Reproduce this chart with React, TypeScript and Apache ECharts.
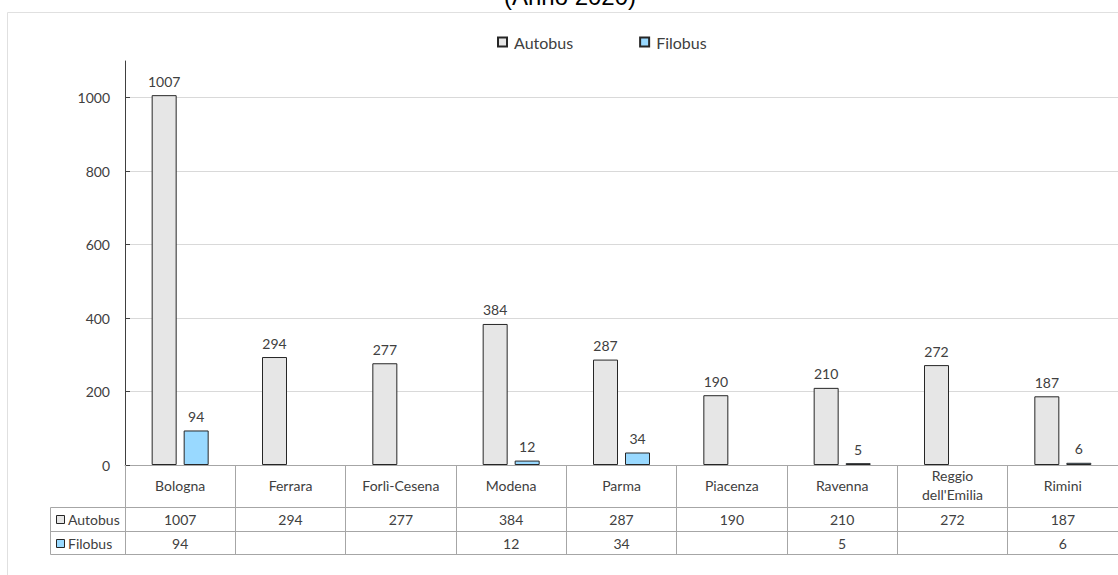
import React, { useEffect, useRef } from "react";
import * as echarts from "echarts";

const categories = [
  "Bologna",
  "Ferrara",
  "Forlì-Cesena",
  "Modena",
  "Parma",
  "Piacenza",
  "Ravenna",
  "Reggio dell'Emilia",
  "Rimini",
];
const autobus = [1007, 294, 277, 384, 287, 190, 210, 272, 187];
const filobus: (number | null)[] = [94, null, null, 12, 34, null, 5, null, 6];
const yTicks = [0, 200, 400, 600, 800, 1000];
const titleText = "(Anno 2020)";

const FONT = "Lato, 'Noto Sans', sans-serif";
const TXT = "#404040";
const TABLE = "#a6a6a6";
const GRAY_FILL = "#e6e6e6";
const BLUE_FILL = "#99d9ff";
const EDGE = "#262626";

export default function App() {
  const ref = useRef<HTMLDivElement>(null);
  useEffect(() => {
    if (!ref.current) return;
    const chart = echarts.init(ref.current, null, { renderer: "svg" });
    const rowAxis = (offset: number, values: (number | null)[] | null) => ({
      type: "category",
      gridIndex: 0,
      position: "bottom",
      offset,
      data: categories,
      axisLine: { show: true, lineStyle: { color: TABLE, width: 1 } },
      axisTick: { show: false },
      axisLabel: {
        show: values !== null,
        interval: 0,
        margin: 12,
        verticalAlign: "middle",
        fontFamily: FONT,
        fontSize: 14,
        color: TXT,
        formatter: (_v: string, i: number) =>
          values && values[i] != null ? String(values[i]) : "",
      },
      splitLine: { show: false },
    });
    chart.setOption({
      animation: false,
      textStyle: { fontFamily: FONT },
      legend: {
        left: 497,
        top: 34,
        padding: 0,
        itemWidth: 9,
        itemHeight: 9,
        itemGap: 66,
        icon: "rect",
        textStyle: {
          fontFamily: FONT,
          fontSize: 16,
          color: TXT,
          padding: [0, 0, 0, 2],
        },
        data: ["Autobus", "Filobus"],
      },
      grid: { left: 125, top: 61, width: 999, height: 404 },
      yAxis: {
        type: "value",
        min: 0,
        max: 1100,
        interval: 200,
        axisLine: { show: true, lineStyle: { color: TXT, width: 1 } },
        axisTick: {
          show: true,
          inside: true,
          length: 5,
          lineStyle: { color: TXT },
          customValues: yTicks,
        },
        axisLabel: {
          margin: 15,
          fontFamily: FONT,
          fontSize: 14,
          color: TXT,
          customValues: yTicks,
          formatter: (v: number) => String(v),
        },
        splitLine: {
          show: true,
          lineStyle: { color: "#d9d9d9", width: 1 },
        },
      },
      xAxis: [
        {
          type: "category",
          data: categories,
          position: "bottom",
          axisLine: { show: true, lineStyle: { color: TABLE, width: 1 } },
          axisTick: {
            show: true,
            interval: 0,
            length: 89,
            lineStyle: { color: TABLE, width: 1 },
          },
          axisLabel: {
            interval: 0,
            margin: 20,
            verticalAlign: "middle",
            lineHeight: 19,
            fontFamily: FONT,
            fontSize: 14,
            color: TXT,
            formatter: (v: string) => v.replace("Reggio ", "Reggio\n"),
          },
        },
        rowAxis(42, autobus),
        rowAxis(66, filobus),
        rowAxis(89, null),
      ],
      series: [
        {
          name: "Autobus",
          type: "bar",
          xAxisIndex: 0,
          data: autobus,
          barWidth: 25,
          barGap: "28%",
          itemStyle: { color: GRAY_FILL, borderColor: EDGE, borderWidth: 1 },
          label: {
            show: true,
            position: "top",
            distance: 7,
            fontFamily: FONT,
            fontSize: 14,
            color: TXT,
          },
        },
        {
          name: "Filobus",
          type: "bar",
          xAxisIndex: 0,
          data: filobus,
          barWidth: 25,
          barGap: "28%",
          itemStyle: { color: BLUE_FILL, borderColor: EDGE, borderWidth: 1 },
          label: {
            show: true,
            position: "top",
            distance: 7,
            fontFamily: FONT,
            fontSize: 14,
            color: TXT,
          },
        },
      ],
      graphic: [
        {
          type: "rect",
          silent: true,
          shape: { x: 7.5, y: 12.5, width: 1300, height: 700 },
          style: { fill: "none", stroke: "#e0e0e0", lineWidth: 1 },
          z: -10,
        },
        {
          type: "text",
          x: 570,
          y: 8,
          style: {
            text: titleText,
            font: "24px 'Liberation Sans', Arial, sans-serif",
            fill: "#000",
            textAlign: "center",
            textVerticalAlign: "bottom",
          },
        },
        {
          type: "polyline",
          silent: true,
          shape: {
            points: [
              [125, 507.5],
              [50.5, 507.5],
              [50.5, 554.5],
              [125, 554.5],
            ],
          },
          style: { fill: "none", stroke: TABLE, lineWidth: 1 },
        },
        {
          type: "line",
          silent: true,
          shape: { x1: 50.5, y1: 531.5, x2: 125, y2: 531.5 },
          style: { stroke: TABLE, lineWidth: 1 },
        },
        {
          type: "rect",
          shape: { x: 56.5, y: 515.5, width: 8, height: 8 },
          style: { fill: GRAY_FILL, stroke: EDGE, lineWidth: 1 },
        },
        {
          type: "text",
          x: 68,
          y: 519,
          style: {
            text: "Autobus",
            font: `14px ${FONT}`,
            fill: TXT,
            textVerticalAlign: "middle",
          },
        },
        {
          type: "rect",
          shape: { x: 56.5, y: 539.5, width: 8, height: 8 },
          style: { fill: BLUE_FILL, stroke: EDGE, lineWidth: 1 },
        },
        {
          type: "text",
          x: 68,
          y: 543,
          style: {
            text: "Filobus",
            font: `14px ${FONT}`,
            fill: TXT,
            textVerticalAlign: "middle",
          },
        },
      ],
    });
    return () => chart.dispose();
  }, []);
  return (
    <div
      ref={ref}
      style={{ position: "absolute", left: 0, top: 0, width: 1118, height: 575 }}
    />
  );
}
